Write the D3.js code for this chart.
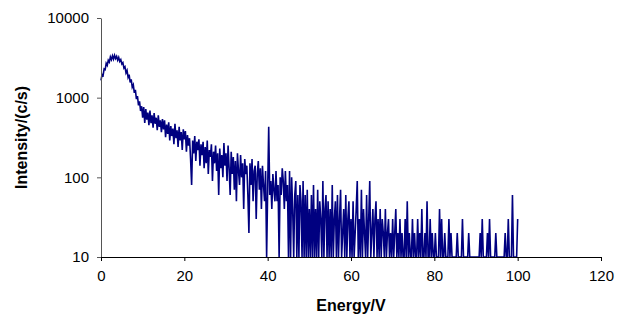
<!DOCTYPE html>
<html>
<head>
<meta charset="utf-8">
<script src="https://cdn.jsdelivr.net/npm/d3@7"></script>
<style>
  html, body { margin: 0; padding: 0; background: #fff; }
  svg { display: block; }
  text { font-family: "Liberation Sans", Arial, sans-serif; }
</style>
</head>
<body>
<div id="chart"></div>
<script>
// spectrum sampled every 0.25 V from 0 to 100 V, counts in c/s (0 = nothing counted)
const energyStep = 0.25
const intensity = [
  // 0 - 4.75
  1650, 1950, 1900, 2300, 2250, 2700, 2550, 2950, 2800, 3250, 3000, 3350, 3050, 3400, 3100, 3300, 2950, 3200, 2850, 3000,
  // 5 - 9.75
  2650, 2750, 2350, 2450, 2050, 2200, 1800, 1950, 1550, 1700, 1350, 1450, 1150, 1250, 960, 1050, 800, 900, 680, 780,
  // 10 - 14.75
  560, 760, 480, 720, 530, 650, 450, 690, 480, 600, 420, 640, 470, 560, 390, 600, 430, 520, 370, 540,
  // 15 - 19.75
  400, 520, 320, 460, 350, 490, 290, 440, 330, 410, 260, 470, 310, 390, 240, 430, 290, 370, 220, 400,
  // 20 - 24.75
  300, 380, 210, 340, 250, 310, 170, 80, 290, 200, 330, 160, 280, 220, 300, 140, 260, 190, 280, 130,
  // 25 - 29.75
  240, 150, 290, 110, 220, 180, 260, 90, 210, 150, 250, 120, 200, 60, 230, 130, 190, 100, 270, 140,
  // 30 - 34.75
  200, 90, 250, 130, 60, 210, 110, 180, 70, 160, 50, 200, 120, 80, 190, 100, 150, 40, 170, 110,
  // 35 - 39.75
  140, 60, 20, 150, 80, 170, 50, 120, 140, 30, 110, 160, 70, 130, 40, 140, 80, 50, 120, 0,
  // 40 - 44.75
  70, 430, 60, 90, 40, 110, 70, 50, 120, 50, 80, 0, 100, 60, 130, 90, 40, 120, 50, 80,
  // 45 - 49.75
  0, 120, 0, 100, 40, 0, 60, 90, 0, 60, 0, 80, 50, 0, 90, 0, 60, 0, 70, 0,
  // 50 - 54.75
  40, 0, 60, 0, 80, 0, 40, 0, 70, 0, 50, 30, 0, 90, 0, 40, 60, 0, 50, 0,
  // 55 - 59.75
  40, 0, 80, 0, 30, 50, 0, 60, 0, 30, 70, 0, 20, 40, 0, 60, 0, 30, 50, 0,
  // 60 - 64.75
  30, 0, 50, 0, 20, 40, 90, 0, 30, 0, 70, 0, 40, 20, 0, 60, 0, 30, 90, 0,
  // 65 - 69.75
  20, 40, 0, 30, 50, 0, 30, 0, 40, 0, 30, 20, 0, 40, 0, 20, 30, 0, 20, 0,
  // 70 - 74.75
  30, 0, 20, 40, 0, 20, 0, 30, 0, 20, 0, 0, 30, 0, 50, 0, 20, 0, 0, 30,
  // 75 - 79.75
  0, 20, 0, 0, 30, 0, 20, 0, 40, 0, 0, 20, 0, 50, 0, 0, 30, 0, 20, 0,
  // 80 - 84.75
  0, 20, 0, 0, 0, 40, 0, 30, 0, 0, 20, 0, 0, 0, 30, 0, 20, 0, 0, 0,
  // 85 - 89.75
  0, 0, 20, 0, 0, 0, 0, 30, 0, 0, 0, 0, 0, 20, 0, 0, 0, 0, 0, 0,
  // 90 - 94.75
  0, 0, 0, 0, 20, 0, 30, 0, 0, 0, 0, 20, 0, 30, 0, 0, 0, 0, 0, 20,
  // 95 - 99.75
  0, 0, 0, 0, 0, 0, 0, 0, 20, 0, 0, 30, 0, 0, 0, 60, 0, 0, 0, 0,
  // 100
  30
]

const xTicks = [0, 20, 40, 60, 80, 100, 120]
const yTicks = [10, 100, 1000, 10000]

const W = 628, H = 320
const m = { top: 18, right: 27, bottom: 63, left: 101 }

const svg = d3.select('#chart').append('svg')
  .attr('width', W)
  .attr('height', H)

const x = d3.scaleLinear().domain([0, 120]).range([m.left, W - m.right])
const y = d3.scaleLog().domain([10, 10000]).range([H - m.bottom, m.top])

const points = intensity.map((v, i) => ({ e: i * energyStep, v: v }))

// series (zero counts sit on the bottom of the log axis)
const line = d3.line()
  .x(d => x(d.e))
  .y(d => y(Math.max(d.v, 10)))

svg.append('path')
  .datum(points)
  .attr('fill', 'none')
  .attr('stroke', '#000080')
  .attr('stroke-width', 1.6)
  .attr('stroke-linejoin', 'miter')
  .attr('d', line)

// y axis
const gy = svg.append('g')
  .attr('transform', `translate(${m.left},0)`)
  .call(d3.axisLeft(y).tickValues(yTicks).tickFormat(d3.format('d')).tickSize(4).tickSizeOuter(0).tickPadding(8))
gy.select('.domain').attr('stroke', '#555')
gy.selectAll('.tick line').attr('stroke', '#555')
gy.selectAll('text').attr('font-size', 15).attr('fill', '#000').attr('font-family', '"Liberation Sans", Arial, sans-serif')

// x axis
const gx = svg.append('g')
  .attr('transform', `translate(0,${H - m.bottom})`)
  .call(d3.axisBottom(x).tickValues(xTicks).tickSize(4).tickSizeOuter(0).tickPadding(9))
gx.select('.domain').attr('stroke', '#000')
gx.selectAll('.tick line').attr('stroke', '#000')
gx.selectAll('text').attr('font-size', 15).attr('fill', '#000').attr('font-family', '"Liberation Sans", Arial, sans-serif')

// titles
svg.append('text')
  .attr('x', (m.left + W - m.right) / 2)
  .attr('y', 311)
  .attr('text-anchor', 'middle')
  .attr('font-size', 16)
  .attr('font-weight', 'bold')
  .text('Energy/V')

svg.append('text')
  .attr('transform', `translate(27,${(m.top + H - m.bottom) / 2}) rotate(-90)`)
  .attr('text-anchor', 'middle')
  .attr('font-size', 16)
  .attr('font-weight', 'bold')
  .text('Intensity/(c/s)')
</script>
</body>
</html>
